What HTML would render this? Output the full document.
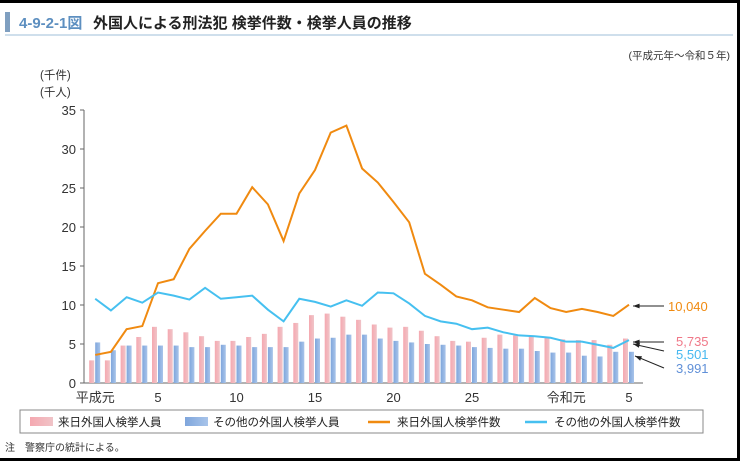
<!DOCTYPE html><html><head><meta charset="utf-8"><style>
body{margin:0;background:#000;}
#w{position:absolute;left:0;top:3px;width:737px;height:455px;background:#fff;overflow:hidden}
svg text{font-family:"Liberation Sans","Noto Sans CJK JP",sans-serif}
</style></head><body><div id="w"></div>
<svg id="s" width="740" height="461" style="position:absolute;left:0;top:0" xmlns="http://www.w3.org/2000/svg">
<rect x="0" y="0" width="740" height="3" fill="#000"/>
<rect x="737" y="0" width="3" height="461" fill="#000"/>
<rect x="0" y="458" width="740" height="3" fill="#000"/>
<rect x="5" y="12" width="5" height="20" fill="#7f9fc0"/>
<text x="19" y="28" font-size="15" font-weight="bold" fill="#5d8fc0">4-9-2-1図</text>
<text x="93" y="28" font-size="15" font-weight="bold" fill="#222">外国人による刑法犯 検挙件数・検挙人員の推移</text>
<line x1="5" y1="35" x2="733" y2="35" stroke="#9fbfd8" stroke-width="1"/>
<text x="730" y="59" font-size="10.5" fill="#333" text-anchor="end">(平成元年～令和５年)</text>
<text x="40" y="79" font-size="11.5" fill="#333">(千件)</text>
<text x="40" y="96" font-size="11.5" fill="#333">(千人)</text>
<g id="g"></g>
<rect x="20" y="410" width="683" height="23" fill="none" stroke="#888"/>
<defs>
<linearGradient id="pk" x1="0" x2="1"><stop offset="0" stop-color="#f5a8b0"/><stop offset="1" stop-color="#f0c4c8"/></linearGradient>
<linearGradient id="bl" x1="0" x2="1"><stop offset="0" stop-color="#7fa6dc"/><stop offset="1" stop-color="#a8c4ea"/></linearGradient>
</defs>
<rect x="30" y="417" width="23" height="9" fill="url(#pk)"/>
<text x="58" y="426" font-size="11.5" fill="#222">来日外国人検挙人員</text>
<rect x="185" y="417" width="23" height="9" fill="url(#bl)"/>
<text x="213" y="426" font-size="11.5" fill="#222">その他の外国人検挙人員</text>
<line x1="368" y1="422" x2="390" y2="422" stroke="#f08a10" stroke-width="2.5"/>
<text x="397" y="426" font-size="11.5" fill="#222">来日外国人検挙件数</text>
<line x1="525" y1="422" x2="547" y2="422" stroke="#46c0f0" stroke-width="2.5"/>
<text x="554" y="426" font-size="11.5" fill="#222">その他の外国人検挙件数</text>
<text x="5" y="451" font-size="10" fill="#333">注　警察庁の統計による。</text>
</svg>
<script>
const O=[3.6,4.0,6.9,7.3,12.8,13.3,17.2,19.5,21.7,21.7,25.1,22.9,18.2,24.3,27.3,32.1,33.0,27.5,25.7,23.2,20.6,14.0,12.6,11.1,10.6,9.7,9.4,9.1,10.9,9.6,9.1,9.5,9.1,8.6,10.04];
const C=[10.8,9.3,11.0,10.3,11.6,11.2,10.7,12.2,10.8,11.0,11.2,9.4,7.9,10.8,10.4,9.8,10.6,9.9,11.6,11.5,10.2,8.6,7.9,7.6,6.9,7.1,6.5,6.1,6.0,5.8,5.3,5.3,4.9,4.5,5.5];
const P=[2.9,2.9,4.8,5.9,7.2,6.9,6.5,6.0,5.4,5.4,5.9,6.3,7.2,7.7,8.7,8.9,8.5,8.1,7.5,7.1,7.2,6.7,6.0,5.4,5.3,5.8,6.2,6.1,6.1,5.8,5.6,5.5,5.5,4.9,5.7];
const B=[5.2,4.2,4.8,4.8,4.8,4.8,4.6,4.6,4.9,4.8,4.6,4.6,4.6,5.3,5.7,5.8,6.2,6.2,5.7,5.4,5.2,5.0,4.9,4.8,4.6,4.5,4.4,4.4,4.1,3.9,3.9,3.5,3.4,4.0,4.0];
const y=v=>383-v*7.8, x=i=>95.2+i*15.7;
let h='';
for(let v=0;v<=35;v+=5){h+=`<text x="76" y="${y(v)+5}" font-size="13" fill="#333" text-anchor="end">${v}</text><line x1="80" x2="84" y1="${y(v)}" y2="${y(v)}" stroke="#666"/>`;}
h+=`<line x1="84" y1="${y(35)}" x2="84" y2="383" stroke="#666"/><line x1="84" y1="383" x2="643" y2="383" stroke="#666"/>`;
for(let i=0;i<35;i++){const c=x(i);
h+=`<rect x="${c-6}" y="${y(P[i])}" width="5" height="${P[i]*7.8}" fill="url(#pk)"/>`;
h+=`<rect x="${c}" y="${y(B[i])}" width="5" height="${B[i]*7.8}" fill="url(#bl)"/>`;}
[['平成元',0],['5',4],['10',9],['15',14],['20',19],['25',24],['令和元',30],['5',34]].forEach(([t,i])=>{h+=`<text x="${x(i)}" y="402" font-size="13" fill="#333" text-anchor="middle">${t}</text>`});
h+=`<polyline fill="none" stroke="#f08a10" stroke-width="2" points="${O.map((v,i)=>x(i)+','+y(v)).join(' ')}"/>`;
h+=`<polyline fill="none" stroke="#46c0f0" stroke-width="2" points="${C.map((v,i)=>x(i)+','+y(v)).join(' ')}"/>`;
const ar=(x1,y1,x2,y2)=>{const a=Math.atan2(y2-y1,x2-x1),L=7;return `<line x1="${x1}" y1="${y1}" x2="${x2}" y2="${y2}" stroke="#222"/><polygon fill="#222" points="${x2},${y2} ${x2-L*Math.cos(a-0.35)},${y2-L*Math.sin(a-0.35)} ${x2-L*Math.cos(a+0.35)},${y2-L*Math.sin(a+0.35)}"/>`};
h+=ar(664,306,633,306)+ar(664,342,633,342)+ar(664,351,633,344)+ar(664,368,635,356);
h+=`<text x="668" y="311" font-size="13" fill="#f08a10">10,040</text>`;
h+=`<text x="676" y="346" font-size="13" fill="#f07888">5,735</text>`;
h+=`<text x="676" y="359" font-size="13" fill="#46b8f0">5,501</text>`;
h+=`<text x="676" y="373" font-size="13" fill="#6090d8">3,991</text>`;
document.getElementById('g').innerHTML=h;
</script></body></html>
